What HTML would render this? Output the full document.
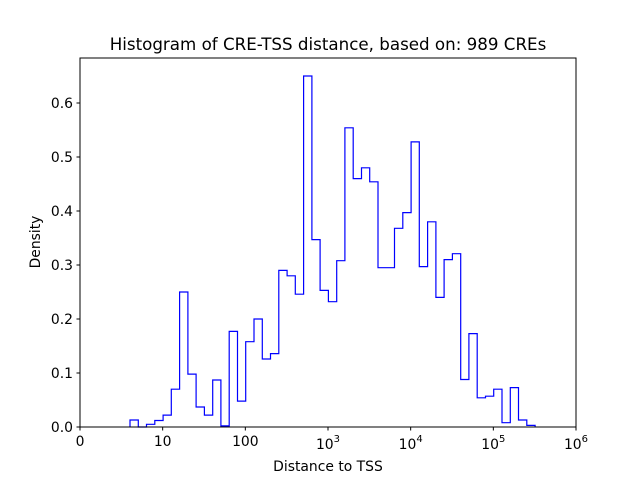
<!DOCTYPE html>
<html><head><meta charset="utf-8"><style>
body{margin:0;background:#fff;}
svg text{font-family:"DejaVu Sans","Liberation Sans",sans-serif;fill:#000;}
</style></head><body>
<svg id="s" width="640" height="480" xmlns="http://www.w3.org/2000/svg">
<rect width="640" height="480" fill="#fff"/>
<text x="328" y="50" font-size="16.7" text-anchor="middle">Histogram of CRE-TSS distance, based on: 989 CREs</text>
<path id="h" fill="none" stroke="#0000ff" stroke-width="1.2"/>
<rect x="80" y="58" width="496" height="369" fill="none" stroke="#000" stroke-width="1"/>
<g id="ax" font-size="13.9"></g>
<text x="328" y="471" font-size="13.9" text-anchor="middle">Distance to TSS</text>
<text transform="translate(40,242) rotate(-90)" font-size="13.9" text-anchor="middle">Density</text>
</svg>
<script>
var hs=[0.013,0,0.005,0.012,0.022,0.07,0.25,0.098,0.037,0.022,0.087,0.002,0.177,0.048,0.158,0.2,0.126,0.136,0.29,0.28,0.246,0.65,0.347,0.253,0.232,0.308,0.554,0.46,0.48,0.454,0.295,0.295,0.368,0.397,0.528,0.297,0.38,0.24,0.31,0.321,0.088,0.173,0.054,0.057,0.07,0.008,0.073,0.013,0.003];
var w=82.667/10,x0=130,Y=function(v){return 427-v*540;};
var d="M"+x0+" 427";
for(var i=0;i<hs.length;i++){var a=x0+i*w,b=a+w;d+=" L"+a.toFixed(1)+" "+Y(hs[i]).toFixed(1)+" L"+b.toFixed(1)+" "+Y(hs[i]).toFixed(1);}
d+=" L"+(x0+hs.length*w).toFixed(1)+" 427";
document.getElementById('h').setAttribute('d',d);
var g='';
for(var k=0;k<=6;k++){var y=Y(k/10);g+='<line x1="76.5" x2="80" y1="'+y+'" y2="'+y+'" stroke="#000"/><text x="73" y="'+(y+5)+'" text-anchor="end">'+(k==0?'0.0':'0.'+k)+'</text>';}
var lb=['0','10','100','10<tspan dy="-7" font-size="10">3</tspan>','10<tspan dy="-7" font-size="10">4</tspan>','10<tspan dy="-7" font-size="10">5</tspan>','10<tspan dy="-7" font-size="10">6</tspan>'];
for(var k=0;k<=6;k++){var x=80+k*82.667;g+='<line x1="'+x+'" x2="'+x+'" y1="427" y2="430.5" stroke="#000"/><text x="'+x+'" y="'+(k<3?446:449)+'" text-anchor="middle">'+lb[k]+'</text>';}
document.getElementById('ax').innerHTML=g;
</script>
</body></html>
